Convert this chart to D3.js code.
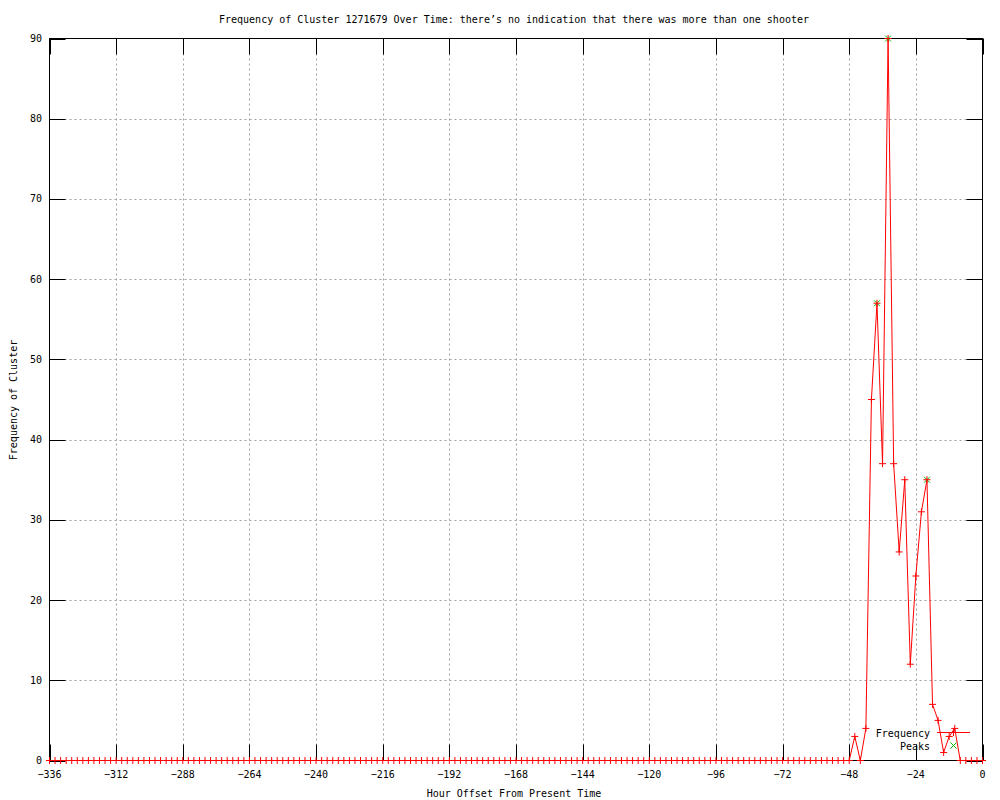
<!DOCTYPE html>
<html>
<head>
<meta charset="utf-8">
<script src="https://cdn.jsdelivr.net/npm/d3@7"></script>
<style>
  body { margin: 0; background: #fff; }
  text { font-family: "DejaVu Sans Mono", monospace; font-size: 10px; fill: #000; }
</style>
</head>
<body>
<script>
// hours run -336..0 in 2 hour steps (one sample per bin)
const hours = d3.range(-336, 1, 2)
const freq = [
  // -336 .. -50
  0,0,0,0,0,0,0,0,0,0, 0,0,0,0,0,0,0,0,0,0,
  0,0,0,0,0,0,0,0,0,0, 0,0,0,0,0,0,0,0,0,0,
  0,0,0,0,0,0,0,0,0,0, 0,0,0,0,0,0,0,0,0,0,
  0,0,0,0,0,0,0,0,0,0, 0,0,0,0,0,0,0,0,0,0,
  0,0,0,0,0,0,0,0,0,0, 0,0,0,0,0,0,0,0,0,0,
  0,0,0,0,0,0,0,0,0,0, 0,0,0,0,0,0,0,0,0,0,
  0,0,0,0,0,0,0,0,0,0, 0,0,0,0,0,0,0,0,0,0,
  0,0,0,0,
  // -48 .. 0
  0, 3, 0, 4, 45, 57, 37, 90, 37, 26, 35, 12, 23, 31, 35, 7, 5, 1, 3, 4, 0, 0, 0, 0, 0
]
const peakHours = [-38, -34, -20]
const peakValues = [57, 90, 35]
const xTicks = d3.range(-336, 1, 24)
const yTicks = [0, 10, 20, 30, 40, 50, 60, 70, 80, 90]

const title = "Frequency of Cluster 1271679 Over Time: there\u2019s no indication that there was more than one shooter"

const W = 1000, H = 800
const pl = 49.5, pr = 982.5, pt = 38.5, pb = 760.5
const tickLen = 16

const svg = d3.select("body").append("svg")
  .attr("width", W).attr("height", H)

const x = d3.scaleLinear().domain([-336, 0]).range([pl, pr])
const y = d3.scaleLinear().domain([0, 90]).range([pb, pt])

// grid
const grid = svg.append("g")
  .attr("stroke", "#a0a0a0")
  .attr("stroke-dasharray", "2,3")
grid.selectAll(".gx").data(xTicks.slice(1, -1)).join("line")
  .attr("x1", d => Math.round(x(d)) + 0.5).attr("x2", d => Math.round(x(d)) + 0.5)
  .attr("y1", pt).attr("y2", pb)
grid.selectAll(".gy").data(yTicks.slice(1, -1)).join("line")
  .attr("y1", d => Math.round(y(d)) + 0.5).attr("y2", d => Math.round(y(d)) + 0.5)
  .attr("x1", pl).attr("x2", pr)

// key background clears the grid
svg.append("rect")
  .attr("x", 870).attr("y", 726).attr("width", 105).attr("height", 26)
  .attr("fill", "#fff")

// ticks on all four sides
const ticks = svg.append("g").attr("stroke", "#000")
xTicks.forEach(t => {
  const px = Math.round(x(t)) + 0.5
  ticks.append("line").attr("x1", px).attr("x2", px).attr("y1", pb).attr("y2", pb - tickLen)
  ticks.append("line").attr("x1", px).attr("x2", px).attr("y1", pt).attr("y2", pt + tickLen)
})
yTicks.forEach(t => {
  const py = Math.round(y(t)) + 0.5
  ticks.append("line").attr("x1", pl).attr("x2", pl + tickLen).attr("y1", py).attr("y2", py)
  ticks.append("line").attr("x1", pr).attr("x2", pr - tickLen).attr("y1", py).attr("y2", py)
})

svg.append("rect")
  .attr("x", pl).attr("y", pt)
  .attr("width", pr - pl).attr("height", pb - pt)
  .attr("fill", "none").attr("stroke", "#000")

// tick labels
const fmt = d3.format("d")
svg.append("g").selectAll("text").data(xTicks).join("text")
  .attr("x", d => x(d)).attr("y", 778)
  .attr("text-anchor", "middle")
  .text(d => fmt(d))
svg.append("g").selectAll("text").data(yTicks).join("text")
  .attr("x", 42).attr("y", d => y(d) + 3.5)
  .attr("text-anchor", "end")
  .text(d => d)

svg.append("text").attr("x", 514).attr("y", 23).attr("text-anchor", "middle").text(title)
svg.append("text").attr("x", 514).attr("y", 797).attr("text-anchor", "middle")
  .text("Hour Offset From Present Time")
svg.append("text").attr("transform", "translate(17,400) rotate(-90)")
  .attr("text-anchor", "middle").text("Frequency of Cluster")

// data
const pts = hours.map((h, i) => [h, freq[i]])
const line = d3.line().x(d => x(d[0])).y(d => y(d[1]))

const red = "#ff0000", green = "#00c000"

function plus(g, cx, cy, color) {
  g.append("path")
    .attr("d", `M${cx - 3.5},${cy}H${cx + 3.5}M${cx},${cy - 3.5}V${cy + 3.5}`)
    .attr("stroke", color).attr("fill", "none")
}
function cross(g, cx, cy, color) {
  g.append("path")
    .attr("d", `M${cx - 3},${cy - 3}L${cx + 3},${cy + 3}M${cx - 3},${cy + 3}L${cx + 3},${cy - 3}`)
    .attr("stroke", color).attr("fill", "none")
}

const dataG = svg.append("g")
dataG.append("path").datum(pts)
  .attr("d", line)
  .attr("fill", "none").attr("stroke", red)
peakHours.forEach((h, i) => cross(dataG, x(h), y(peakValues[i]), green))
pts.forEach(p => plus(dataG, x(p[0]), y(p[1]), red))

// key
svg.append("text").attr("x", 930).attr("y", 737).attr("text-anchor", "end").text("Frequency")
svg.append("text").attr("x", 930).attr("y", 750).attr("text-anchor", "end").text("Peaks")
svg.append("line").attr("x1", 937).attr("x2", 970).attr("y1", 732.5).attr("y2", 732.5)
  .attr("stroke", red)
plus(svg, 953.5, 732.5, red)
cross(svg, 953.5, 745.5, green)
</script>
</body>
</html>
